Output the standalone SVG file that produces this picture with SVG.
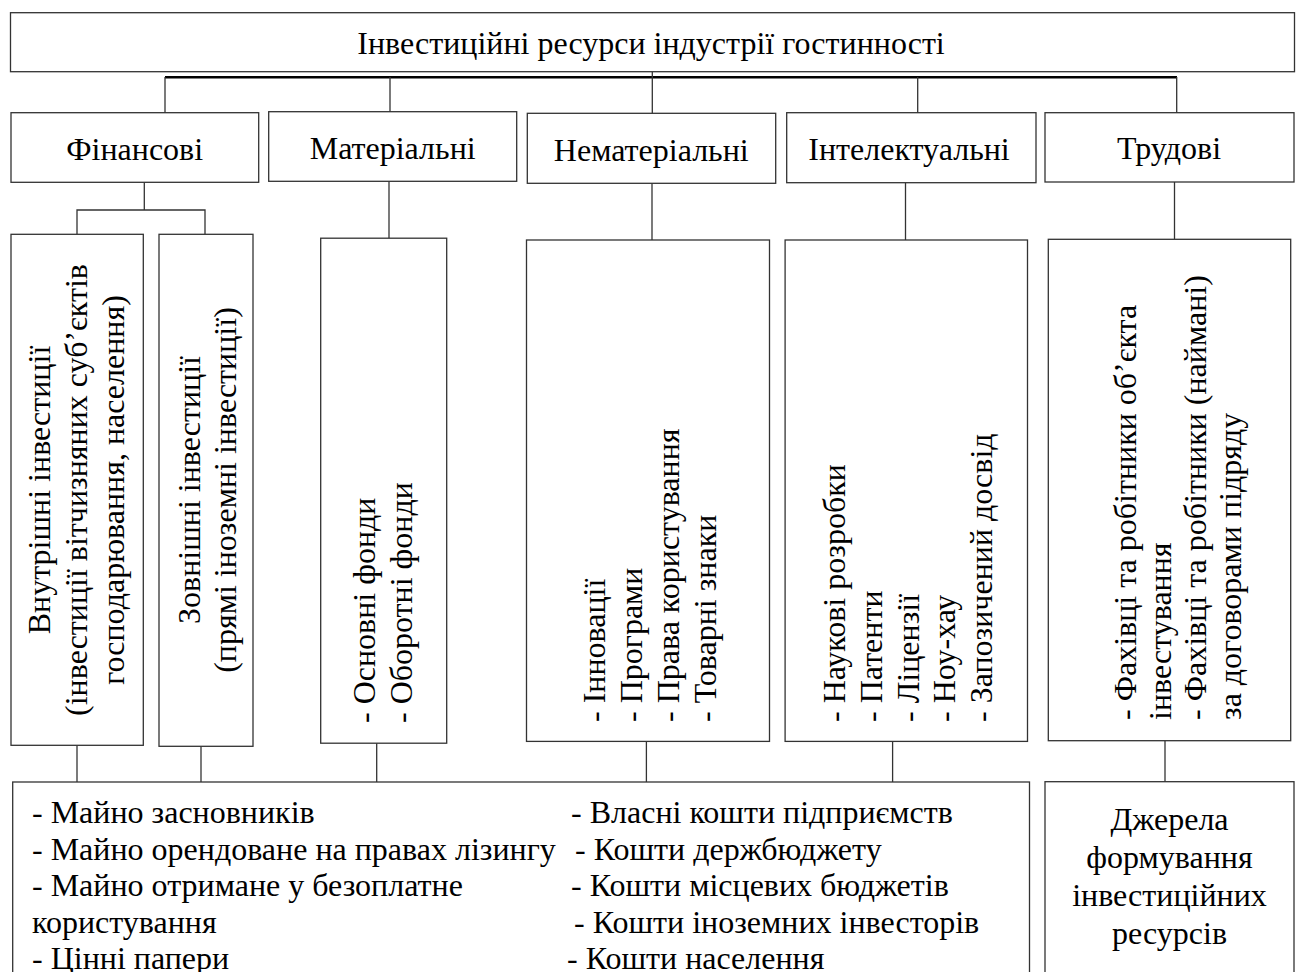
<svg xmlns="http://www.w3.org/2000/svg" width="1297" height="972" viewBox="0 0 1297 972">
<style>
.box{fill:#fff;stroke:#333;stroke-width:1.3}
.ln{stroke:#333;stroke-width:1.3;fill:none}
.thick{stroke:#000;stroke-width:2.6;fill:none}
text{font-family:"Liberation Serif","Times New Roman",serif;font-size:32px;fill:#000}
.c{text-anchor:middle}
</style>
<rect width="1297" height="972" fill="#fff"/>
<g id="connectors">
<line class="thick" x1="165" y1="77.3" x2="1177" y2="77.3"/>
<line class="ln" x1="165" y1="77" x2="165" y2="113"/>
<line class="ln" x1="390" y1="77" x2="390" y2="112"/>
<line class="ln" x1="652.3" y1="72" x2="652.3" y2="113.5"/>
<line class="ln" x1="917.7" y1="77" x2="917.7" y2="113"/>
<line class="ln" x1="1176.7" y1="77" x2="1176.7" y2="113"/>
<line class="ln" x1="144.3" y1="182.3" x2="144.3" y2="210"/>
<polyline class="ln" points="77,234.3 77,210 205,210 205,234.3"/>
<line class="ln" x1="389" y1="181.3" x2="389" y2="238.2"/>
<line class="ln" x1="652" y1="183.3" x2="652" y2="240"/>
<line class="ln" x1="905.5" y1="182.7" x2="905.5" y2="240"/>
<line class="ln" x1="1174.5" y1="182" x2="1174.5" y2="239.3"/>
<line class="ln" x1="77" y1="745.3" x2="77" y2="782"/>
<line class="ln" x1="201" y1="746.4" x2="201" y2="782"/>
<line class="ln" x1="376.7" y1="743.3" x2="376.7" y2="782"/>
<line class="ln" x1="646.4" y1="741.4" x2="646.4" y2="782"/>
<line class="ln" x1="892.6" y1="741.4" x2="892.6" y2="782"/>
<line class="ln" x1="1165" y1="740.7" x2="1165" y2="781.7"/>
</g>
<g id="root">
<rect class="box" x="10.5" y="12.7" width="1284" height="59"/>
<text class="c" x="651" y="54">Інвестиційні ресурси індустрії гостинності</text>
</g>
<g id="financial">
<rect class="box" x="11" y="112.7" width="247.7" height="69.6"/>
<text class="c" x="134.7" y="160">Фінансові</text>
</g>
<g id="material">
<rect class="box" x="268.7" y="111.7" width="248" height="69.6"/>
<text class="c" x="392.7" y="159">Матеріальні</text>
</g>
<g id="intangible">
<rect class="box" x="527.3" y="113.3" width="248.4" height="70"/>
<text class="c" x="651.3" y="160.5">Нематеріальні</text>
</g>
<g id="intellectual">
<rect class="box" x="786.7" y="112.7" width="249.3" height="70"/>
<text class="c" x="909" y="160">Інтелектуальні</text>
</g>
<g id="labour">
<rect class="box" x="1045" y="112.7" width="249" height="69.3"/>
<text class="c" x="1169" y="159.3">Трудові</text>
</g>
<g id="domestic">
<rect class="box" x="11" y="234.3" width="132.3" height="511"/>
<text class="c" transform="translate(50,490) rotate(-90)">Внутрішні інвестиції</text>
<text class="c" transform="translate(87,490) rotate(-90)">(інвестиції вітчизняних суб’єктів</text>
<text class="c" transform="translate(124,490) rotate(-90)">господарювання, населення)</text>
</g>
<g id="foreign">
<rect class="box" x="159" y="234.3" width="94" height="512"/>
<text class="c" transform="translate(199.5,490) rotate(-90)">Зовнішні інвестиції</text>
<text class="c" transform="translate(236,490) rotate(-90)">(прямі іноземні інвестиції)</text>
</g>
<g id="funds">
<rect class="box" x="320.7" y="238.2" width="126" height="505"/>
<text transform="translate(375,723) rotate(-90)">- Основні фонди</text>
<text transform="translate(412,723) rotate(-90)">- Оборотні фонди</text>
</g>
<g id="innovations">
<rect class="box" x="526.5" y="240" width="243" height="501.4"/>
<text transform="translate(605,722) rotate(-90)">- Інновації</text>
<text transform="translate(642,722) rotate(-90)">- Програми</text>
<text transform="translate(679,722) rotate(-90)">- Права користування</text>
<text transform="translate(715.5,722) rotate(-90)">- Товарні знаки</text>
</g>
<g id="research">
<rect class="box" x="785.1" y="240" width="242.4" height="501.4"/>
<text transform="translate(845,722) rotate(-90)">- Наукові розробки</text>
<text transform="translate(882,722) rotate(-90)">- Патенти</text>
<text transform="translate(918.5,722) rotate(-90)">- Ліцензії</text>
<text transform="translate(955,722) rotate(-90)">- Ноу-хау</text>
<text transform="translate(992,722) rotate(-90)">- Запозичений досвід</text>
</g>
<g id="staff">
<rect class="box" x="1048.3" y="239.3" width="242.4" height="501.4"/>
<text transform="translate(1136,720) rotate(-90)">- Фахівці та робітники об’єкта</text>
<text transform="translate(1171,720) rotate(-90)">інвестування</text>
<text transform="translate(1206,720) rotate(-90)">- Фахівці та робітники (наймані)</text>
<text transform="translate(1241,720) rotate(-90)">за договорами підряду</text>
</g>
<g id="sources-list">
<rect class="box" x="12.7" y="782" width="1016.8" height="220"/>
<text x="32" y="823">- Майно засновників</text>
<text x="32" y="859.5">- Майно орендоване на правах лізингу</text>
<text x="32" y="896">- Майно отримане у безоплатне</text>
<text x="32" y="932.5">користування</text>
<text x="32" y="969">- Цінні папери</text>
<text x="571" y="823">- Власні кошти підприємств</text>
<text x="575" y="859.5">- Кошти держбюджету</text>
<text x="571" y="896">- Кошти місцевих бюджетів</text>
<text x="574" y="932.5">- Кошти іноземних інвесторів</text>
<text x="567" y="969">- Кошти населення</text>
</g>
<g id="sources">
<rect class="box" x="1045" y="781.7" width="249" height="220"/>
<text class="c" x="1169.5" y="830">Джерела</text>
<text class="c" x="1169.5" y="868">формування</text>
<text class="c" x="1169.5" y="906">інвестиційних</text>
<text class="c" x="1169.5" y="943.5">ресурсів</text>
</g>
</svg>
